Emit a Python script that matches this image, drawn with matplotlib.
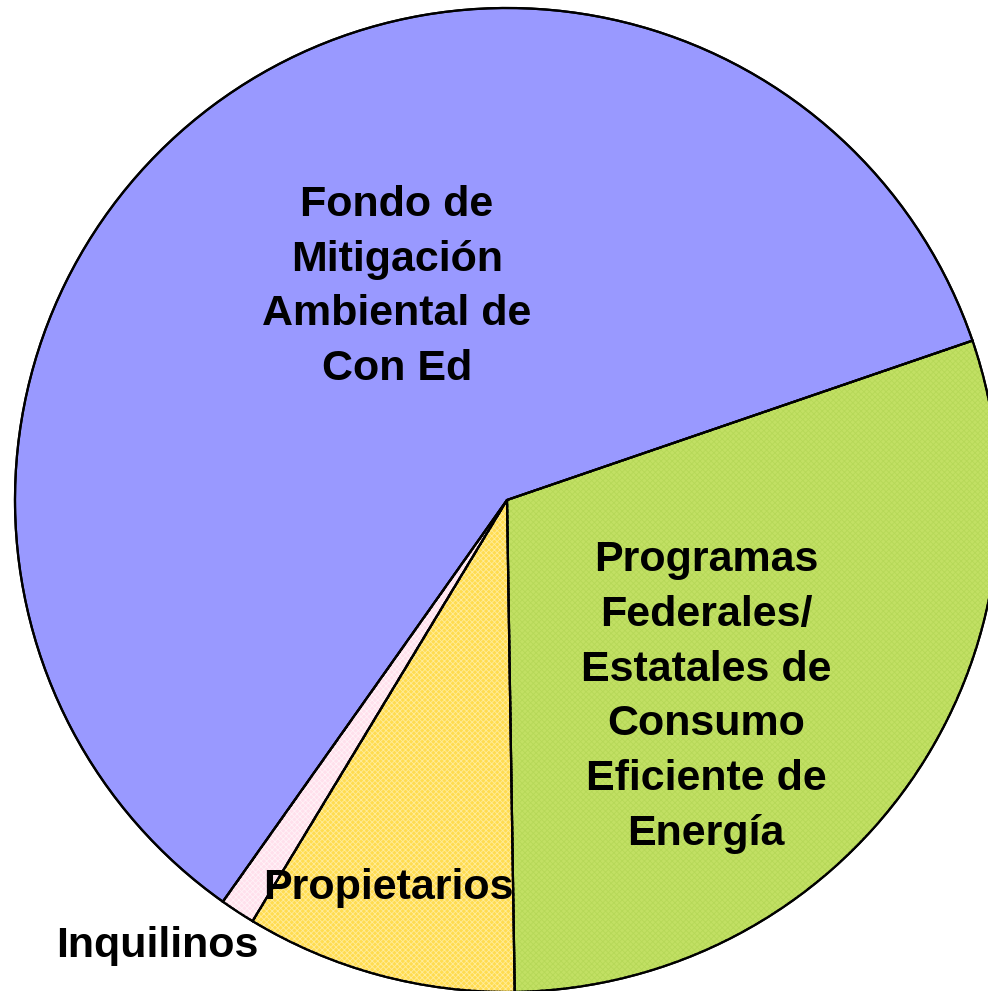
import matplotlib
matplotlib.use("Agg")
import matplotlib.pyplot as plt

categories = [
    "Programas\nFederales/\nEstatales de\nConsumo\nEficiente de\nEnergía",
    "Propietarios",
    "Inquilinos",
    "Fondo de\nMitigación\nAmbiental de\nCon Ed",
]
values = [30.0, 8.9, 1.15, 59.95]
colors = ["#C2E064", "#FFDC50", "#FFE0EC", "#9999FF"]
hatch_colors = ["#B6D858", "#FFEC9A", "#FFF2F7", None]

W, H = 988, 991
cx, cy, R = 507, 500, 492

fig = plt.figure(figsize=(W / 100, H / 100), dpi=100)
ax = fig.add_axes([0, 0, 1, 1])

plt.rcParams["hatch.linewidth"] = 0.6

wedges, _ = ax.pie(values, colors=colors, startangle=18.9, counterclock=False,
                   radius=1.0, wedgeprops=dict(edgecolor="black", linewidth=1.6))

# overlay fine texture
wedges2, _ = ax.pie(values, colors=["none"] * len(values), startangle=18.9,
                    counterclock=False, radius=1.0,
                    wedgeprops=dict(linewidth=0))
for w, hc in zip(wedges2, hatch_colors):
    if hc is None:
        w.set_visible(False)
    else:
        w.set_hatch("xxxxxx")
        w.set_edgecolor(hc)
        w.set_facecolor("none")

# redraw outlines on top
wedges3, _ = ax.pie(values, colors=["none"] * len(values), startangle=18.9,
                    counterclock=False, radius=1.0,
                    wedgeprops=dict(edgecolor="black", linewidth=1.6, fill=False))

ax.set_xlim(-cx / R, (W - cx) / R)
ax.set_ylim(-(H - cy) / R, cy / R)
ax.set_aspect("auto")
ax.axis("off")

def px(x, y):
    return (x - cx) / R, (cy - y) / R

label_pos = [(706, 697), (388, 888), (157, 946), (397, 287)]
font = dict(family=["Liberation Sans", "DejaVu Sans"], fontweight="bold",
            fontsize=31, color="black", ha="center", va="center",
            linespacing=1.48)
for lab, (x, y) in zip(categories, label_pos):
    tx, ty = px(x, y)
    ax.text(tx, ty, lab, **font)

fig.savefig("out.png", dpi=100)
